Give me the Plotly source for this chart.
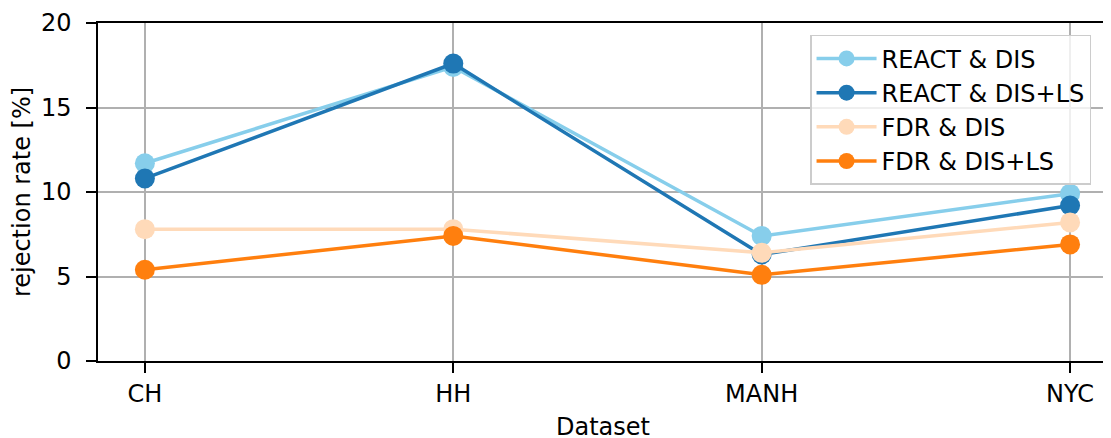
import plotly.graph_objects as go

datasets = ["CH", "HH", "MANH", "NYC"]
react_dis = [11.7, 17.4, 7.4, 9.9]
react_dis_ls = [10.8, 17.6, 6.3, 9.2]
fdr_dis = [7.8, 7.8, 6.4, 8.2]
fdr_dis_ls = [5.4, 7.4, 5.1, 6.9]

series = [
    ("REACT & DIS", react_dis, "#87CEEB"),
    ("REACT & DIS+LS", react_dis_ls, "#1f77b4"),
    ("FDR & DIS", fdr_dis, "#FFDAB9"),
    ("FDR & DIS+LS", fdr_dis_ls, "#ff7f0e"),
]

fig = go.Figure()
for name, vals, col in series:
    fig.add_trace(go.Scatter(
        x=datasets, y=vals, name=name, mode="lines+markers",
        line=dict(color=col, width=3.5),
        marker=dict(color=col, size=20),
    ))

font = "DejaVu Sans"
fs = 24
# page has an 8px body margin, so the figure is sized/offset accordingly
fig.update_layout(
    width=1103, height=430,
    margin=dict(l=90, r=3, t=15, b=77, autoexpand=False),
    paper_bgcolor="white", plot_bgcolor="white",
    font=dict(family=font, size=fs, color="black"),
    showlegend=True,
    legend=dict(
        x=0.705, y=0.965, xanchor="left", yanchor="top",
        bgcolor="rgba(255,255,255,0.8)", bordercolor="#cccccc", borderwidth=1.5,
        font=dict(size=fs, family=font), tracegroupgap=0, itemwidth=60,
    ),
    xaxis=dict(
        type="category", range=[-0.152, 3.123], automargin=False,
        showgrid=True, gridcolor="#b0b0b0", gridwidth=1.5,
        showline=True, linecolor="black", linewidth=1.5, mirror=True,
        ticks="outside", ticklen=10, tickwidth=1.5, tickcolor="black",
        tickfont=dict(size=fs),
        zeroline=False,
    ),
    yaxis=dict(
        range=[0, 20], tickvals=[0, 5, 10, 15, 20], automargin=False,
        showgrid=True, gridcolor="#b0b0b0", gridwidth=1.5,
        showline=True, linecolor="black", linewidth=1.5, mirror=True,
        ticks="outside", ticklen=10, tickwidth=1.5, tickcolor="black",
        tickfont=dict(size=fs), ticklabelstandoff=10,
        title=dict(text="rejection rate [%]", font=dict(size=fs), standoff=14),
        zeroline=False,
    ),
    annotations=[dict(
        text="Dataset", xref="paper", yref="paper", x=0.5, y=-0.196,
        xanchor="center", yanchor="middle", showarrow=False,
        font=dict(size=fs, family=font, color="black"),
    )],
)

fig.write_html("out.html")
